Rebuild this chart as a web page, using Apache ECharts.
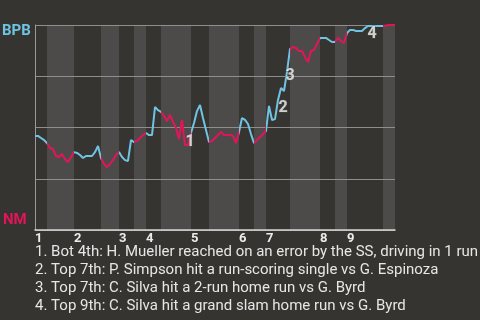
<!DOCTYPE html>
<html><head><meta charset="utf-8">
<script src="https://cdn.jsdelivr.net/npm/echarts@6/dist/echarts.min.js"></script>
<style>html,body{margin:0;padding:0;background:#363431;} #c{width:480px;height:320px;}</style>
</head><body><div id="c"></div>
<script>
// ---- data ----
const teams = ['BPB', 'NM'];               // visitor (top of chart), home (bottom)
const innings = ['1','2','3','4','5','6','7','8','9'];
const halfInningPlays = [4,9, 9,6, 5,4, 5,10, 6,10, 5,4, 8,10, 5,4, 12,4];
const winProb = [
  0.459,0.459,0.449,0.439,0.424,0.400,0.395,0.361,0.356,0.371,
  0.346,0.332,0.356,0.380,0.376,0.366,0.351,0.361,0.361,0.361,
  0.380,0.410,0.351,0.322,0.307,0.322,0.341,0.366,0.380,0.356,
  0.341,0.337,0.439,0.429,0.434,0.449,0.463,0.473,0.463,0.463,
  0.600,0.585,0.576,0.556,0.532,0.561,0.527,0.498,0.444,0.537,
  0.415,0.415,0.473,0.522,0.580,0.610,0.546,0.488,0.429,0.434,
  0.449,0.463,0.478,0.463,0.463,0.463,0.459,0.424,0.478,0.546,
  0.537,0.517,0.468,0.424,0.439,0.454,0.468,0.483,0.605,0.537,
  0.541,0.634,0.693,0.678,0.771,0.883,0.893,0.888,0.873,0.873,
  0.844,0.820,0.873,0.878,0.907,0.937,0.937,0.937,0.927,0.917,
  0.917,0.937,0.922,0.912,0.961,0.976,0.976,0.971,0.971,0.971,
  0.985,0.995,0.995,0.995,0.995,0.995,0.995,0.998,1.000,1.000,
  1.000
];
const eventPlay = [50, 81, 84, 111];
const eventNum = ['1','2','3','4'];
const notes = [
  '1. Bot 4th: H. Mueller reached on an error by the SS, driving in 1 run',
  '2. Top 7th: P. Simpson hit a run-scoring single vs G. Espinoza',
  '3. Top 7th: C. Silva hit a 2-run home run vs G. Byrd',
  '4. Top 9th: C. Silva hit a grand slam home run vs G. Byrd'
];

// ---- styling ----
const CYAN = '#6ec4e2', RED = '#e3145a', STRIPE = '#4d4b49', BG = '#363431';
const eventOffsets = [[5,-3],[5,8],[3,4],[4,8]];

// ---- derived ----
const bounds = [0];
halfInningPlays.forEach(n => bounds.push(bounds[bounds.length-1] + n));
const total = bounds[bounds.length-1];
const inningStarts = innings.map((_, k) => bounds[2*k]);
const stripes = [];
const pieces = [];
for (let h = 0; h < halfInningPlays.length; h++) {
  const p = { gte: bounds[h], color: h % 2 === 0 ? CYAN : RED };
  if (h < halfInningPlays.length - 1) p.lt = bounds[h+1]; else p.lte = bounds[h+1];
  pieces.push(p);
  if (h % 2 === 1) stripes.push([bounds[h], bounds[h+1], 0, 1]);
}

const chart = echarts.init(document.getElementById('c'), null, {renderer: 'canvas'});
chart.setOption({
  backgroundColor: BG,
  animation: false,
  textStyle: { fontFamily: 'Roboto' },
  grid: { left: 35, right: 85, top: 25, bottom: 90 },
  xAxis: {
    type: 'value', min: 0, max: total, z: 3,
    axisLine: { show: true, lineStyle: { color: '#d6d6d6', width: 1.5 } },
    axisTick: { show: false },
    splitLine: { show: false },
    axisLabel: {
      customValues: inningStarts,
      formatter: v => innings[inningStarts.indexOf(v)] || '',
      align: 'left', margin: 2, color: '#ececec', fontWeight: 'bold', fontSize: 13, fontFamily: 'Roboto'
    }
  },
  yAxis: {
    type: 'value', min: 0, max: 1, interval: 0.25, z: 3,
    axisLine: { show: true, lineStyle: { color: '#9a9a9a', width: 1 } },
    axisTick: { show: false },
    axisLabel: { show: false },
    splitLine: { show: true, lineStyle: { color: '#8e8e8e', width: 1 } }
  },
  visualMap: { type: 'piecewise', show: false, dimension: 0, seriesIndex: 1, pieces: pieces },
  series: [
    {
      type: 'custom', z: 1, silent: true,
      encode: { x: [0, 1], y: [2, 3] },
      data: stripes,
      renderItem: (params, api) => {
        const p0 = api.coord([api.value(0), api.value(3)]);
        const p1 = api.coord([api.value(1), api.value(2)]);
        return { type: 'rect', shape: { x: p0[0], y: p0[1], width: p1[0]-p0[0], height: p1[1]-p0[1] },
                 style: { fill: STRIPE } };
      }
    },
    {
      type: 'line', z: 5, silent: true, showSymbol: false, symbol: 'none',
      lineStyle: { width: 2 },
      data: winProb.map((v, i) => [i, v])
    },
    {
      type: 'scatter', z: 6, silent: true, symbolSize: 0,
      data: eventPlay.map((p, k) => ({
        value: [p, winProb[p]],
        label: { show: true, formatter: eventNum[k], position: 'inside', offset: eventOffsets[k],
                 color: '#f4f4f4', fontWeight: 'bold', fontSize: 16, fontFamily: 'Roboto',
                 textBorderColor: 'rgba(90,90,90,0.8)', textBorderWidth: 1 }
      }))
    }
  ],
  graphic: [
    { type: 'text', left: 2, top: 24, style: { text: teams[0], fill: CYAN, font: 'bold 15px Roboto' } },
    { type: 'text', left: 3, top: 213, style: { text: teams[1], fill: RED, font: 'bold 15px Roboto' } },
    { type: 'text', left: 35, top: 243, style: { text: notes.join('\n'), fill: '#e6e6e6', font: '15px Roboto', lineHeight: 18 } }
  ]
});
</script></body></html>
